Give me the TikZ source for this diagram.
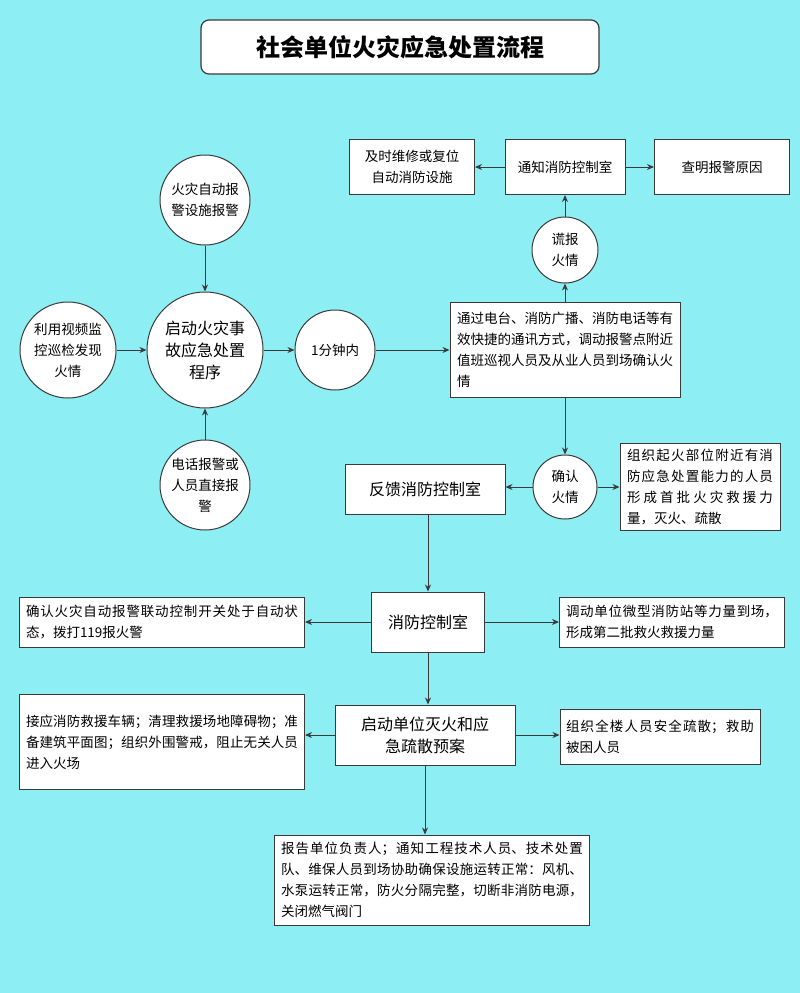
\documentclass[tikz,border=0pt]{standalone}
\usepackage{fontspec}
\setmainfont{Noto Sans CJK SC}
\XeTeXlinebreaklocale "zh"
\XeTeXlinebreakskip=0pt plus 1pt
\usetikzlibrary{arrows.meta}
\definecolor{bg}{HTML}{8DEEF4}
\definecolor{ln}{HTML}{3A3A3A}
\begin{document}
\begin{tikzpicture}[x=1pt,y=-1pt,
  every node/.style={font=\fontsize{13.5}{21}\selectfont, text=black},
  box/.style={draw=ln, line width=1pt, fill=white, align=justify, inner sep=6pt},
  cbox/.style={draw=ln, line width=1pt, fill=white, align=center, inner sep=4pt},
  circ/.style={draw=ln, line width=1pt, fill=white, circle, align=center, inner sep=0pt},
  arr/.style={draw=ln, line width=1pt, -{Stealth[length=7pt,width=6pt]}}]
\useasboundingbox (0,0) rectangle (800,993);
\fill[bg] (0,0) rectangle (800,993);
\node[draw=ln, line width=1.2pt, fill=white, rounded corners=8pt, minimum width=398pt, minimum height=54pt, font=\fontsize{24}{28}\selectfont\bfseries] (title) at (400,47) {社会单位火灾应急处置流程};
\node[circ, minimum size=90pt] (auto) at (205,200) {火灾自动报\\警设施报警};
\node[circ, minimum size=96pt] (video) at (68,350) {利用视频监\\控巡检发现\\火情};
\node[circ, minimum size=116pt, font=\fontsize{16}{22}\selectfont] (start) at (205,350) {启动火灾事\\故应急处置\\程序};
\node[circ, minimum size=80pt] (min) at (335,350) {1分钟内};
\node[circ, minimum size=90pt] (phone) at (205,485) {电话报警或\\人员直接报\\警};
\node[box, minimum width=230pt, minimum height=95pt, text width=216pt] (comm) at (565,350) {通过电台、消防广播、消防电话等有效快捷的通讯方式，调动报警点附近值班巡视人员及从业人员到场确认火情};
\node[circ, minimum size=66pt] (fake) at (565,250) {谎报\\火情};
\node[cbox, minimum width=120pt, minimum height=55pt] (notify) at (565,167) {通知消防控制室};
\node[cbox, minimum width=125pt, minimum height=55pt] (repair) at (412,167) {及时维修或复位\\自动消防设施};
\node[cbox, minimum width=135pt, minimum height=55pt] (cause) at (722,167) {查明报警原因};
\node[circ, minimum size=64pt] (conf) at (565,487) {确认\\火情};
\node[cbox, minimum width=160pt, minimum height=50pt, font=\fontsize{16}{22}\selectfont] (feed) at (425,489) {反馈消防控制室};
\node[box, minimum width=160pt, minimum height=85pt, text width=146pt] (org1) at (700,487) {组织起火部位附近有消防应急处置能力的人员形成首批火灾救援力量，灭火、疏散};
\node[cbox, minimum width=113pt, minimum height=60pt, font=\fontsize{16}{22}\selectfont] (ctrl) at (428,622) {消防控制室};
\node[box, minimum width=285pt, minimum height=50pt, text width=272pt] (l1) at (162,622) {确认火灾自动报警联动控制开关处于自动状态，拨打119报火警};
\node[box, minimum width=225pt, minimum height=50pt, text width=212pt] (r1) at (672,622) {调动单位微型消防站等力量到场，形成第二批救火救援力量};
\node[cbox, minimum width=180pt, minimum height=60pt, font=\fontsize{16}{22}\selectfont] (plan) at (425,735) {启动单位灭火和应\\急疏散预案};
\node[box, minimum width=285pt, minimum height=95pt, text width=272pt] (l2) at (162,742) {接应消防救援车辆；清理救援场地障碍物；准备建筑平面图；组织外围警戒，阻止无关人员进入火场};
\node[box, minimum width=200pt, minimum height=55pt, text width=188pt] (r2) at (660,737) {组织全楼人员安全疏散；救助被困人员};
\node[box, minimum width=315pt, minimum height=90pt, text width=302pt] (rep) at (432,880) {报告单位负责人；通知工程技术人员、技术处置队、维保人员到场协助确保设施运转正常：风机、水泵运转正常，防火分隔完整，切断非消防电源，关闭燃气阀门};
\draw[arr] (auto) -- (start);
\draw[arr] (phone) -- (start);
\draw[arr] (video) -- (start);
\draw[arr] (start) -- (min);
\draw[arr] (min) -- (comm);
\draw[arr] (comm) -- (fake);
\draw[arr] (fake) -- (notify);
\draw[arr] (notify) -- (repair);
\draw[arr] (notify) -- (cause);
\draw[arr] (comm) -- (conf);
\draw[arr] (conf) -- (conf -| feed.east);
\draw[arr] (conf) -- (org1);
\draw[arr] (feed.south -| ctrl) -- (ctrl);
\draw[arr] (ctrl) -- (l1);
\draw[arr] (ctrl) -- (r1);
\draw[arr] (ctrl) -- (ctrl |- plan.north);
\draw[arr] (plan) -- (plan -| l2.east);
\draw[arr] (plan) -- (plan -| r2.west);
\draw[arr] (plan) -- (plan |- rep.north);
\end{tikzpicture}
\end{document}
